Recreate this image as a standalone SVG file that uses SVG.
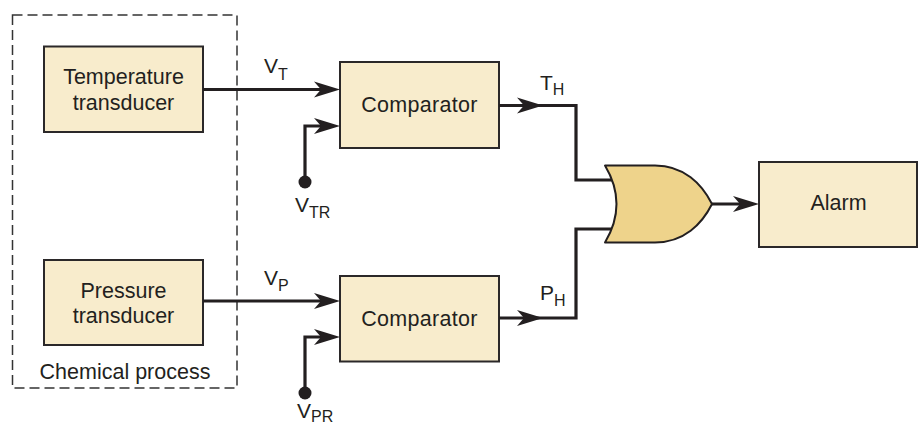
<svg xmlns="http://www.w3.org/2000/svg" xmlns:xlink="http://www.w3.org/1999/xlink" width="918" height="425" viewBox="0 0 918 425">
<style>
  .box { fill: #F8ECCC; stroke: #2B2829; stroke-width: 2; }
  .lbl { font-family: "Liberation Sans", Arial, sans-serif; font-size: 21.5px; fill: #231F20; }
  .sig { font-family: "Liberation Sans", Arial, sans-serif; font-size: 21px; fill: #231F20; }
  .sub { font-size: 16px; }
  .wire { fill: none; stroke: #231F20; stroke-width: 3.2; stroke-linejoin: miter; }
  .arrow { fill: #231F20; }
</style>
<defs>
  <path id="ah" class="arrow" d="M0,0 L-26,-8 L-19,0 L-26,8 Z"/>
</defs>
<rect width="918" height="425" fill="#FFFFFF"/>

<g id="chemical-process">
  <rect x="12.5" y="15" width="224.5" height="373" fill="none" stroke="#333" stroke-width="1.5" stroke-dasharray="10,5"/>
  <text class="lbl" x="125" y="379" text-anchor="middle">Chemical process</text>
</g>

<g id="temperature-transducer">
  <rect class="box" x="44" y="46.5" width="159" height="85.5"/>
  <text class="lbl" x="123.5" y="84" text-anchor="middle">Temperature</text>
  <text class="lbl" x="123.5" y="110" text-anchor="middle">transducer</text>
</g>

<g id="pressure-transducer">
  <rect class="box" x="44" y="260" width="159" height="85"/>
  <text class="lbl" x="123.5" y="297.5" text-anchor="middle">Pressure</text>
  <text class="lbl" x="123.5" y="322.5" text-anchor="middle">transducer</text>
</g>

<g id="comparator-top">
  <rect class="box" x="340" y="62" width="159" height="86"/>
  <text class="lbl" x="419.5" y="112" text-anchor="middle" letter-spacing="0.3">Comparator</text>
</g>

<g id="comparator-bottom">
  <rect class="box" x="340" y="276" width="159" height="85.5"/>
  <text class="lbl" x="419.5" y="325.5" text-anchor="middle" letter-spacing="0.3">Comparator</text>
</g>

<g id="alarm">
  <rect class="box" x="759" y="162" width="158" height="85"/>
  <text class="lbl" x="838.5" y="209.5" text-anchor="middle">Alarm</text>
</g>

<g id="connectors">
  <path class="wire" d="M203,89.5 H330"/>
  <path class="wire" d="M305,182 V126 H330"/>
  <path class="wire" d="M203,301 H330"/>
  <path class="wire" d="M305,393 V337 H330"/>
  <path class="wire" d="M499,105.5 H576 V180 H614"/>
  <path class="wire" d="M499,318 H576 V229 H614"/>
  <path class="wire" d="M712,204 H750"/>
  <use xlink:href="#ah" x="340" y="89.5"/>
  <use xlink:href="#ah" x="340" y="126"/>
  <use xlink:href="#ah" x="340" y="301"/>
  <use xlink:href="#ah" x="340" y="337"/>
  <use xlink:href="#ah" x="543" y="105.5"/>
  <use xlink:href="#ah" x="543" y="318"/>
  <use xlink:href="#ah" x="759" y="204"/>
  <circle cx="305" cy="182" r="6.5" fill="#231F20"/>
  <circle cx="305" cy="393" r="6.5" fill="#231F20"/>
</g>

<g id="or-gate">
  <path d="M605,165.5 L655,165.5 C684,165.5 702,184 712,204 C702,224 684,242.5 655,242.5 L605,242.5 Q628,204 605,165.5 Z" fill="#EED38B" stroke="#231F20" stroke-width="2" stroke-linejoin="round"/>
</g>

<g id="labels">
  <text class="sig" x="264" y="72.5">V<tspan class="sub" dy="7">T</tspan></text>
  <text class="sig" x="295" y="212">V<tspan class="sub" dy="6">TR</tspan></text>
  <text class="sig" x="264" y="285">V<tspan class="sub" dy="6">P</tspan></text>
  <text class="sig" x="297" y="418">V<tspan class="sub" dy="4">PR</tspan></text>
  <text class="sig" x="540" y="89.5">T<tspan class="sub" dy="5">H</tspan></text>
  <text class="sig" x="540" y="300">P<tspan class="sub" dy="6">H</tspan></text>
</g>
</svg>
